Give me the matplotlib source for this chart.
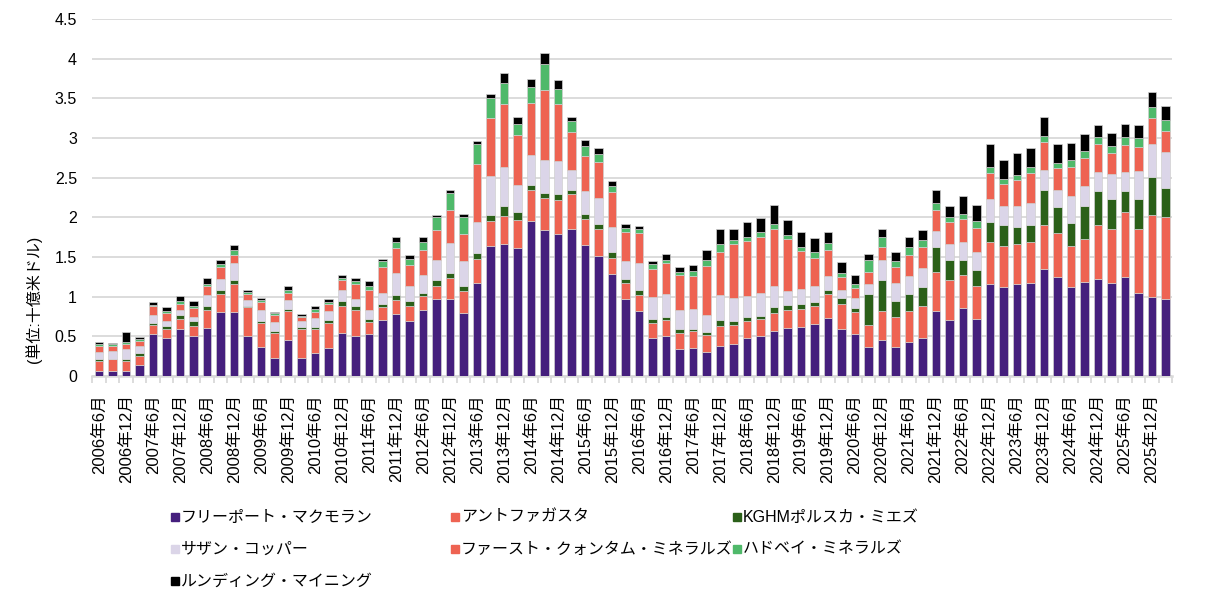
import numpy as np
import matplotlib.pyplot as plt
from matplotlib.patches import Rectangle

plt.rcParams['font.family'] = ['Liberation Sans', 'Noto Sans CJK JP']

# quarterly periods, 2006年6月 .. 2026年3月
periods = []
y, m = 2006, 6
for i in range(80):
    periods.append(f"{y}年{m}月")
    m += 3
    if m > 12:
        m -= 12
        y += 1

names = ["フリーポート・マクモラン", "アントファガスタ", "KGHMポルスカ・ミエズ",
         "サザン・コッパー", "ファースト・クォンタム・ミネラルズ", "ハドベイ・ミネラルズ",
         "ルンディング・マイニング"]
colors = ["#451f7d", "#ee6352", "#2b6019", "#dbd5e8", "#ee6352", "#4fb96a", "#000000"]

freeport = [0.06, 0.07, 0.07, 0.14, 0.53, 0.48, 0.60, 0.50, 0.61, 0.81,
            0.81, 0.50, 0.37, 0.23, 0.45, 0.23, 0.29, 0.35, 0.55, 0.50,
            0.53, 0.71, 0.78, 0.70, 0.83, 0.97, 0.97, 0.80, 1.17, 1.64,
            1.66, 1.61, 1.95, 1.84, 1.79, 1.85, 1.65, 1.52, 1.29, 0.97,
            0.82, 0.48, 0.50, 0.34, 0.36, 0.31, 0.38, 0.40, 0.48, 0.50,
            0.57, 0.61, 0.62, 0.66, 0.73, 0.60, 0.53, 0.37, 0.45, 0.37,
            0.43, 0.48, 0.82, 0.71, 0.86, 0.72, 1.16, 1.12, 1.16, 1.18,
            1.35, 1.25, 1.12, 1.19, 1.23, 1.17, 1.25, 1.05, 1.00, 0.97]
antofagasta = [0.13, 0.14, 0.12, 0.11, 0.11, 0.11, 0.12, 0.13, 0.22, 0.22,
               0.35, 0.37, 0.30, 0.31, 0.37, 0.37, 0.31, 0.32, 0.34, 0.34,
               0.15, 0.16, 0.18, 0.19, 0.18, 0.17, 0.27, 0.27, 0.31, 0.32,
               0.36, 0.36, 0.39, 0.40, 0.43, 0.44, 0.33, 0.34, 0.20, 0.20,
               0.20, 0.19, 0.21, 0.21, 0.21, 0.21, 0.25, 0.24, 0.22, 0.22,
               0.23, 0.23, 0.23, 0.23, 0.31, 0.31, 0.28, 0.27, 0.37, 0.37,
               0.39, 0.40, 0.49, 0.50, 0.41, 0.42, 0.53, 0.52, 0.50, 0.51,
               0.56, 0.56, 0.52, 0.54, 0.68, 0.68, 0.82, 0.81, 1.03, 1.03]
kghm = [0.02, 0.01, 0.03, 0.04, 0.03, 0.04, 0.05, 0.06, 0.06, 0.06,
        0.05, 0.02, 0.02, 0.03, 0.03, 0.02, 0.02, 0.04, 0.06, 0.05,
        0.04, 0.04, 0.06, 0.06, 0.04, 0.07, 0.06, 0.06, 0.07, 0.07,
        0.12, 0.10, 0.07, 0.07, 0.08, 0.06, 0.06, 0.06, 0.08, 0.06,
        0.06, 0.05, 0.04, 0.04, 0.03, 0.04, 0.08, 0.06, 0.04, 0.04,
        0.07, 0.06, 0.06, 0.05, 0.05, 0.07, 0.05, 0.39, 0.39, 0.21,
        0.22, 0.24, 0.32, 0.25, 0.20, 0.20, 0.25, 0.26, 0.22, 0.22,
        0.43, 0.32, 0.29, 0.42, 0.42, 0.38, 0.26, 0.37, 0.48, 0.37]
southern = [0.09, 0.10, 0.12, 0.09, 0.10, 0.07, 0.06, 0.06, 0.13, 0.14,
            0.21, 0.07, 0.15, 0.11, 0.11, 0.08, 0.11, 0.11, 0.13, 0.08,
            0.12, 0.14, 0.28, 0.18, 0.22, 0.26, 0.38, 0.32, 0.39, 0.49,
            0.50, 0.34, 0.38, 0.41, 0.41, 0.25, 0.29, 0.32, 0.31, 0.22,
            0.34, 0.28, 0.28, 0.24, 0.25, 0.21, 0.31, 0.29, 0.27, 0.29,
            0.27, 0.17, 0.19, 0.19, 0.17, 0.10, 0.12, 0.13, 0.25, 0.23,
            0.22, 0.24, 0.20, 0.21, 0.22, 0.23, 0.29, 0.25, 0.26, 0.27,
            0.26, 0.22, 0.34, 0.25, 0.24, 0.32, 0.24, 0.35, 0.42, 0.45]
first_quantum = [0.08, 0.06, 0.07, 0.06, 0.11, 0.09, 0.08, 0.11, 0.12, 0.15,
                 0.11, 0.08, 0.10, 0.09, 0.09, 0.04, 0.08, 0.09, 0.13, 0.19,
                 0.24, 0.32, 0.31, 0.27, 0.32, 0.37, 0.42, 0.34, 0.74, 0.74,
                 0.79, 0.63, 0.65, 0.89, 0.72, 0.48, 0.45, 0.46, 0.44, 0.37,
                 0.39, 0.35, 0.40, 0.45, 0.41, 0.62, 0.55, 0.67, 0.69, 0.71,
                 0.72, 0.66, 0.48, 0.36, 0.33, 0.17, 0.13, 0.15, 0.17, 0.19,
                 0.27, 0.27, 0.27, 0.27, 0.29, 0.30, 0.33, 0.27, 0.33, 0.38,
                 0.35, 0.27, 0.37, 0.35, 0.35, 0.26, 0.34, 0.31, 0.32, 0.27]
hudbay = [0.03, 0.03, 0.02, 0.03, 0.02, 0.03, 0.04, 0.02, 0.02, 0.03,
          0.06, 0.02, 0.02, 0.02, 0.04, 0.02, 0.04, 0.03, 0.03, 0.04,
          0.06, 0.08, 0.08, 0.08, 0.10, 0.16, 0.21, 0.21, 0.25, 0.24,
          0.27, 0.14, 0.20, 0.32, 0.19, 0.13, 0.12, 0.10, 0.08, 0.05,
          0.05, 0.06, 0.04, 0.03, 0.06, 0.07, 0.09, 0.06, 0.05, 0.06,
          0.06, 0.05, 0.05, 0.08, 0.09, 0.05, 0.05, 0.15, 0.12, 0.08,
          0.10, 0.08, 0.08, 0.06, 0.07, 0.09, 0.08, 0.06, 0.06, 0.07,
          0.08, 0.07, 0.09, 0.09, 0.09, 0.09, 0.11, 0.11, 0.14, 0.14]
lundin = [0.02, 0.01, 0.13, 0.02, 0.03, 0.05, 0.06, 0.07, 0.08, 0.06,
          0.06, 0.03, 0.03, 0.02, 0.04, 0.02, 0.03, 0.03, 0.04, 0.04,
          0.06, 0.03, 0.06, 0.05, 0.06, 0.03, 0.03, 0.05, 0.04, 0.06,
          0.12, 0.09, 0.11, 0.14, 0.11, 0.06, 0.08, 0.08, 0.06, 0.05,
          0.03, 0.04, 0.07, 0.07, 0.08, 0.13, 0.20, 0.14, 0.19, 0.17,
          0.24, 0.19, 0.19, 0.17, 0.14, 0.14, 0.11, 0.08, 0.10, 0.11,
          0.13, 0.13, 0.16, 0.14, 0.22, 0.20, 0.29, 0.25, 0.28, 0.24,
          0.24, 0.23, 0.21, 0.21, 0.15, 0.17, 0.16, 0.16, 0.19, 0.18]

series = [freeport, antofagasta, kghm, southern, first_quantum, hudbay, lundin]

fig = plt.figure(figsize=(12.3, 5.98), dpi=100)
ax = fig.add_axes([0.075, 0.371, 0.878, 0.597])

x = np.arange(len(periods))
bottom = np.zeros(len(periods))
for vals, c in zip(series, colors):
    ax.bar(x, vals, 0.62, bottom=bottom, color=c, edgecolor="#d0d0d0",
           linewidth=0.5, zorder=3)
    bottom += np.array(vals)

ax.set_xlim(-0.5, len(periods) - 0.5)
ax.set_ylim(0, 4.5)
ax.set_yticks(np.arange(0, 4.51, 0.5))
ax.set_yticklabels(["0", "0.5", "1", "1.5", "2", "2.5", "3", "3.5", "4", "4.5"])
ax.yaxis.grid(True, color="#d9d9d9", linewidth=1.3, zorder=0)
ax.tick_params(axis="y", length=0, pad=11, labelsize=11.5)

ax.set_xticks(x[::2])
ax.set_xticklabels(periods[::2], rotation=90, fontsize=12)
ax.set_xticks(np.arange(-0.5, len(periods), 1), minor=True)
ax.tick_params(axis="x", which="major", length=0, pad=13)
ax.tick_params(axis="x", which="minor", length=5, width=1.3, color="#d9d9d9")

for s in ["top", "right", "left"]:
    ax.spines[s].set_visible(False)
ax.spines["bottom"].set_color("#d9d9d9")
ax.spines["bottom"].set_linewidth(1.8)

fig.text(0.027, 0.5, "(単位:十億米ドル)", rotation=90, fontsize=11.5,
         ha="center", va="center")

# legend, three columns, row-major
col_x = [175, 455, 737]
row_y = [517, 549, 581]
W, H = 1230, 598
for i, (name, c) in enumerate(zip(names, colors)):
    cx = col_x[i % 3]
    cy = row_y[i // 3]
    fig.patches.append(Rectangle(((cx - 4) / W, 1 - (cy + 4) / H), 8 / W, 8 / H,
                                 transform=fig.transFigure, color=c))
    fig.text((cx + 6) / W, 1 - cy / H, name, fontsize=11.5, va="center", ha="left")

fig.savefig("out.png", dpi=100)
